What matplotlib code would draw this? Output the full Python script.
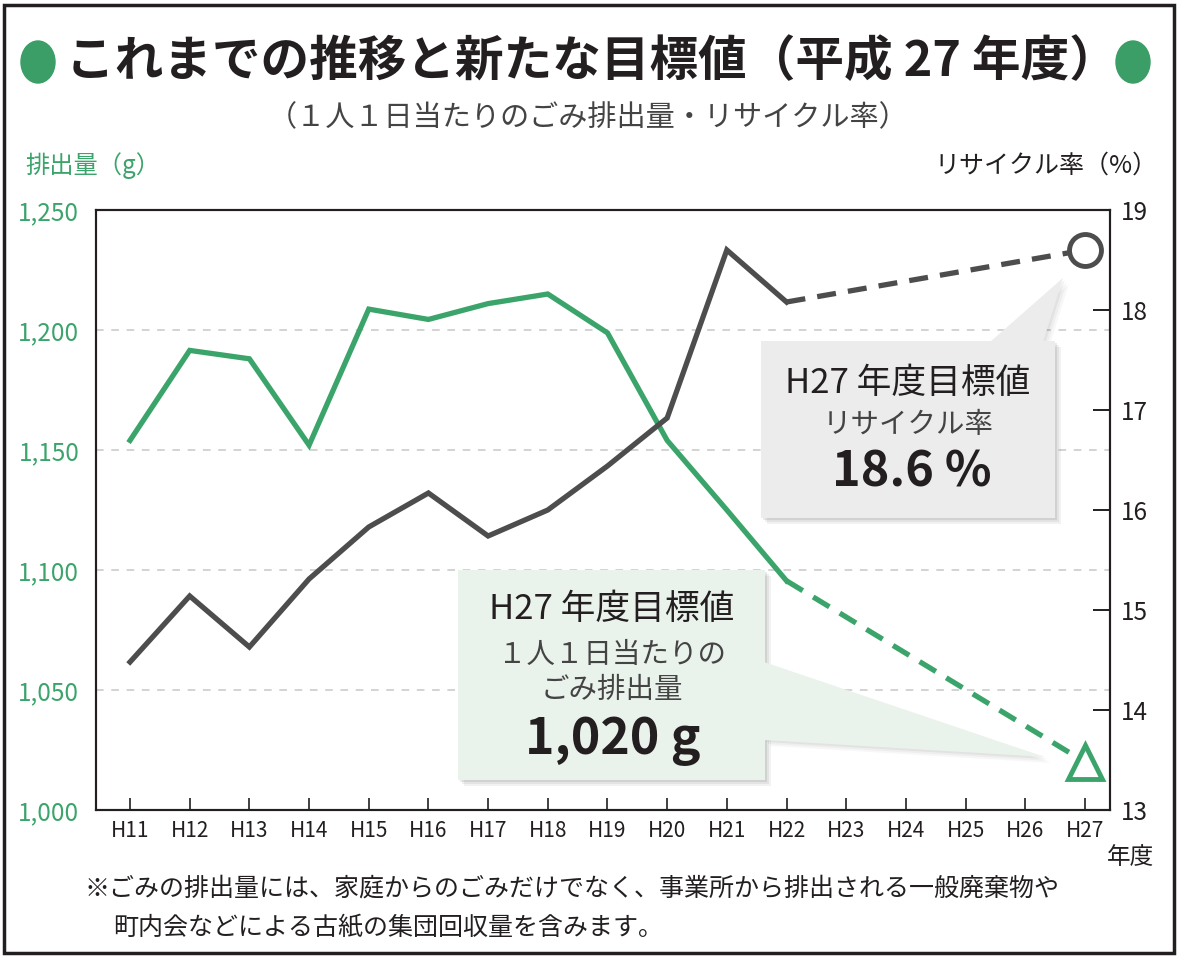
import numpy as np
import matplotlib
matplotlib.use('Agg')
import matplotlib.pyplot as plt
from matplotlib.patches import Rectangle, Polygon, Ellipse

plt.rcParams['font.family'] = ['Noto Sans CJK JP', 'DejaVu Sans']

# data
years = ['H11', 'H12', 'H13', 'H14', 'H15', 'H16', 'H17', 'H18', 'H19',
         'H20', 'H21', 'H22', 'H23', 'H24', 'H25', 'H26', 'H27']
waste_g = [1154, 1191.5, 1188, 1152, 1208.7, 1204.4, 1211, 1215, 1198.8,
           1154, 1125, 1095.5]            # H11-H22 actual
recycle_pct = [14.48, 15.14, 14.63, 15.31, 15.83, 16.17, 15.74, 16.0, 16.44,
               16.92, 18.6, 18.08]         # H11-H22 actual
target_waste = 1020      # H27 target
target_recycle = 18.6    # H27 target

left_ticks = [1000, 1050, 1100, 1150, 1200, 1250]
right_ticks = [13, 14, 15, 16, 17, 18, 19]

GREEN = '#3ba46b'
GREY = '#4d4d4d'
DARK = '#231f20'

W, H = 1177, 956
fig = plt.figure(figsize=(W / 100, H / 100), dpi=100)

def fx(px):
    return px / W

def fy(py):
    return 1 - py / H

# outer frame
fig.add_artist(Rectangle((fx(4), fy(953)), fx(1170), 948 / H, fill=False,
                         ec=DARK, lw=2.5, transform=fig.transFigure))

ax = fig.add_axes([fx(96), fy(810), fx(1110 - 96), 600 / H])
ax2 = ax.twinx()

x = np.arange(len(years))
n = len(waste_g)

ax.plot(x[:n], waste_g, color=GREEN, lw=3.8, solid_joinstyle='miter', zorder=3)
ax.plot([x[n - 1], x[-1]], [waste_g[-1], target_waste], color=GREEN, lw=3.8,
        dashes=(3.6, 2.3), zorder=3)
ax.plot([x[-1]], [target_waste], marker='^', ms=25, mfc='white', mec=GREEN,
        mew=3.5, zorder=4, clip_on=False)

ax2.plot(x[:n], recycle_pct, color=GREY, lw=3.8, solid_joinstyle='miter', zorder=3)
ax2.plot([x[n - 1], x[-1]], [recycle_pct[-1], target_recycle], color=GREY, lw=3.8,
         dashes=(3.6, 2.3), zorder=3)
ax2.plot([x[-1]], [target_recycle], marker='o', ms=23, mfc='white', mec=GREY,
         mew=3.5, zorder=4, clip_on=False)

ax.set_xlim(-0.57, 16.42)
ax.set_ylim(left_ticks[0], left_ticks[-1])
ax2.set_ylim(right_ticks[0], right_ticks[-1])

ax.set_xticks(x)
ax.set_xticklabels(years, fontsize=15, color=DARK)
ax.tick_params(axis='x', direction='in', length=9, width=1.2, color=DARK, pad=7)

ax.set_yticks(left_ticks)
ax.set_yticklabels([f'{v:,}' for v in left_ticks], fontsize=17.5, color=GREEN)
ax.tick_params(axis='y', length=0, pad=12)
ax.grid(axis='y', color='#c8c8c8', ls=(0, (5, 5)), lw=1.1)
ax.set_axisbelow(True)

ax2.set_yticks(right_ticks)
ax2.set_yticklabels([str(v) for v in right_ticks], fontsize=17.5, color=DARK)
ax2.tick_params(axis='y', direction='in', length=12, width=1.4, color=DARK, pad=8)

for a in (ax, ax2):
    for s in a.spines.values():
        s.set_color(DARK)
        s.set_linewidth(1.5)

# titles and labels
for cx in (38, 1133):
    fig.add_artist(Ellipse((fx(cx), fy(62)), 34 / W, 42 / H, color='#3a9e66',
                           transform=fig.transFigure))
fig.text(fx(592), fy(62), 'これまでの推移と新たな目標値（平成 27 年度）', fontsize=35,
         fontweight='bold', color=DARK, ha='center', va='center')
fig.text(fx(588), fy(118), '（１人１日当たりのごみ排出量・リサイクル率）', fontsize=21,
         color='#444444', ha='center', va='center')
fig.text(fx(25), fy(166), '排出量（g）', fontsize=17.5, color=GREEN, ha='left', va='center')
fig.text(fx(1158), fy(166), 'リサイクル率（%）', fontsize=18, color=DARK,
         ha='right', va='center')
fig.text(fx(1130), fy(857), '年度', fontsize=17, color=DARK, ha='center', va='center')
fig.text(fx(84), fy(889), '※ごみの排出量には、家庭からのごみだけでなく、事業所から排出される一般廃棄物や',
         fontsize=18, color=DARK, ha='left', va='center')
fig.text(fx(113), fy(928), '町内会などによる古紙の集団回収量を含みます。',
         fontsize=18, color=DARK, ha='left', va='center')

# callout boxes
inv = fig.transFigure.inverted()

def to_px(a, xv, yv):
    d = a.transData.transform((xv, yv))
    f = inv.transform(d)
    return f[0] * W, (1 - f[1]) * H

def callout(box, base, tip, face):
    x0, y0, x1, y1 = box
    for k, al in ((6, 0.05), (4, 0.06), (2, 0.08)):
        fig.add_artist(Rectangle((fx(x0 + k), fy(y1 + k)), (x1 - x0) / W, (y1 - y0) / H,
                                 fc='black', ec='none', alpha=al,
                                 transform=fig.transFigure, zorder=5))
        fig.add_artist(Polygon([(fx(base[0][0] + k), fy(base[0][1] + k)),
                                (fx(base[1][0] + k), fy(base[1][1] + k)),
                                (fx(tip[0] + k), fy(tip[1] + k))],
                               closed=True, fc='black', ec='none', alpha=al * 0.6,
                               transform=fig.transFigure, zorder=5))
    fig.add_artist(Polygon([(fx(base[0][0]), fy(base[0][1])),
                            (fx(base[1][0]), fy(base[1][1])),
                            (fx(tip[0]), fy(tip[1]))],
                           closed=True, fc=face, ec='none',
                           transform=fig.transFigure, zorder=6))
    fig.add_artist(Rectangle((fx(x0), fy(y1)), (x1 - x0) / W, (y1 - y0) / H,
                             fc=face, ec='none', transform=fig.transFigure, zorder=6))

cx_, cy_ = to_px(ax2, x[-1], target_recycle)
callout((761, 341, 1055, 518), [(990, 342), (1043, 342)], (cx_ - 22, cy_ + 28), '#ececec')
fig.text(fx(908), fy(383), 'H27 年度目標値', fontsize=25, color=DARK,
         ha='center', va='center', zorder=7)
fig.text(fx(908), fy(425), 'リサイクル率', fontsize=20.5, color='#444444',
         ha='center', va='center', zorder=7)
fig.text(fx(912), fy(472), '18.6 %', fontsize=35, fontweight='bold', color=DARK,
         ha='center', va='center', zorder=7)

tx_, ty_ = to_px(ax, x[-1], target_waste)
callout((458, 570, 765, 780), [(764, 662), (764, 740)], (tx_ - 40, ty_ - 5), '#eaf2ec')
fig.text(fx(612), fy(610), 'H27 年度目標値', fontsize=25, color=DARK,
         ha='center', va='center', zorder=7)
fig.text(fx(612), fy(655), '１人１日当たりの', fontsize=20.5, color='#444444',
         ha='center', va='center', zorder=7)
fig.text(fx(612), fy(690), 'ごみ排出量', fontsize=20.5, color='#444444',
         ha='center', va='center', zorder=7)
fig.text(fx(613), fy(740), '1,020 g', fontsize=36, fontweight='bold', color=DARK,
         ha='center', va='center', zorder=7)

fig.savefig('out.png', dpi=100)
